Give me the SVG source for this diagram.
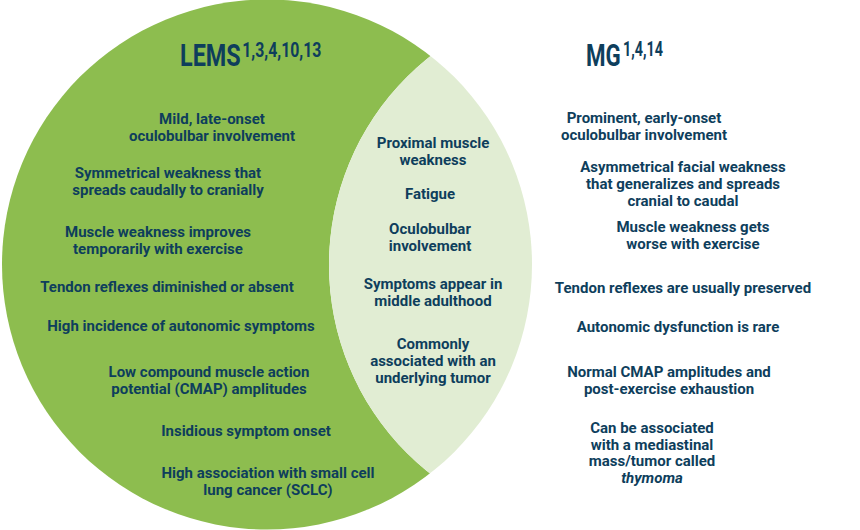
<svg xmlns="http://www.w3.org/2000/svg" width="860" height="530" viewBox="0 0 860 530">
<defs>
<style>
.t{font-family:Roboto,"Liberation Sans",sans-serif;font-weight:700;font-size:15px;fill:#0e3e5c;text-anchor:middle}
.h{font-family:Roboto,"Liberation Sans",sans-serif;font-weight:700;fill:#0e3e5c}
.i{font-style:italic}
</style>
<clipPath id="lemsClip"><circle cx="267" cy="264.5" r="265"/></clipPath>
</defs>
<rect width="860" height="530" fill="#ffffff"/>
<g id="lems">
<circle cx="267" cy="264.5" r="265" fill="#8dbd4f"/>
</g>
<g id="mg">
<circle cx="595" cy="265" r="266" fill="#ffffff"/>
</g>
<g id="overlap">
<circle cx="595" cy="265" r="266" fill="#e1edd3" clip-path="url(#lemsClip)"/>
</g>
<g id="connectors"></g>
<g id="lems-title">
<text class="h" transform="translate(180,66) scale(0.755,1)"><tspan font-size="31">LEMS</tspan><tspan font-size="21" dx="2" dy="-9">1,3,4,10,13</tspan></text>
</g>
<g id="mg-title">
<text class="h" transform="translate(586,66) scale(0.72,1)"><tspan font-size="31">MG</tspan><tspan font-size="20" dx="3" dy="-10">1,4,14</tspan></text>
</g>
<g id="lems-items">
<text class="t" x="212" y="124">Mild, late-onset</text>
<text class="t" x="212" y="141">oculobulbar involvement</text>
<text class="t" x="168" y="178">Symmetrical weakness that</text>
<text class="t" x="168" y="195">spreads caudally to cranially</text>
<text class="t" x="158" y="237">Muscle weakness improves</text>
<text class="t" x="158" y="254">temporarily with exercise</text>
<text class="t" x="167" y="292">Tendon reflexes diminished or absent</text>
<text class="t" x="181" y="331">High incidence of autonomic symptoms</text>
<text class="t" x="209" y="377">Low compound muscle action</text>
<text class="t" x="209" y="394">potential (CMAP) amplitudes</text>
<text class="t" x="246" y="436">Insidious symptom onset</text>
<text class="t" x="268" y="478">High association with small cell</text>
<text class="t" x="268" y="495">lung cancer (SCLC)</text>
</g>
<g id="shared-items">
<text class="t" x="433" y="148">Proximal muscle</text>
<text class="t" x="433" y="165">weakness</text>
<text class="t" x="430" y="199">Fatigue</text>
<text class="t" x="430" y="234">Oculobulbar</text>
<text class="t" x="430" y="251">involvement</text>
<text class="t" x="433" y="289">Symptoms appear in</text>
<text class="t" x="433" y="306">middle adulthood</text>
<text class="t" x="433" y="349">Commonly</text>
<text class="t" x="433" y="366">associated with an</text>
<text class="t" x="433" y="383">underlying tumor</text>
</g>
<g id="mg-items">
<text class="t" x="644" y="123">Prominent, early-onset</text>
<text class="t" x="644" y="140">oculobulbar involvement</text>
<text class="t" x="683" y="172">Asymmetrical facial weakness</text>
<text class="t" x="683" y="189">that generalizes and spreads</text>
<text class="t" x="683" y="206">cranial to caudal</text>
<text class="t" x="693" y="232">Muscle weakness gets</text>
<text class="t" x="693" y="249">worse with exercise</text>
<text class="t" x="683" y="293">Tendon reflexes are usually preserved</text>
<text class="t" x="678" y="332">Autonomic dysfunction is rare</text>
<text class="t" x="669" y="377">Normal CMAP amplitudes and</text>
<text class="t" x="669" y="394">post-exercise exhaustion</text>
<text class="t" x="652" y="433">Can be associated</text>
<text class="t" x="652" y="449.5">with a mediastinal</text>
<text class="t" x="652" y="466">mass/tumor called</text>
<text class="t i" x="652" y="482.5">thymoma</text>
</g>
</svg>
